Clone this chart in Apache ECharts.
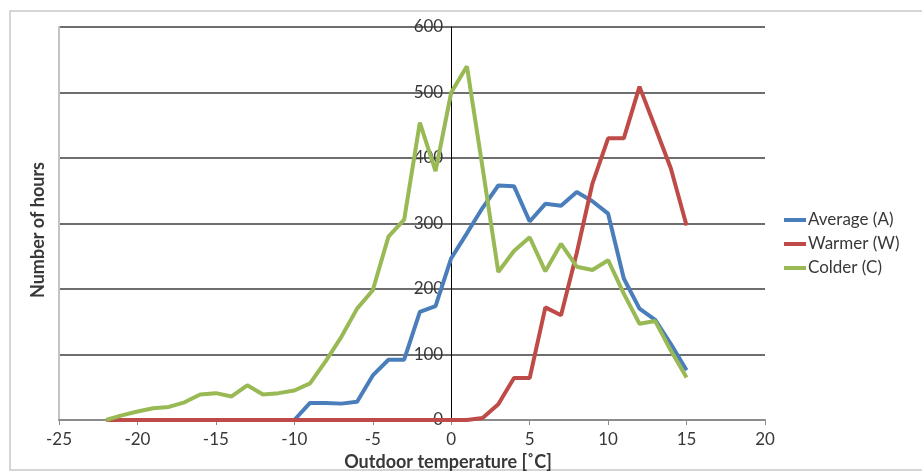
<!DOCTYPE html>
<html>
<head>
<meta charset="utf-8">
<script src="https://cdn.jsdelivr.net/npm/echarts@6/dist/echarts.min.js"></script>
<style>
  html, body { margin: 0; padding: 0; background: #fff; }
  #chart { width: 922px; height: 472px; }
</style>
</head>
<body>
<div id="chart"></div>
<script>
// outdoor temperature, one point per degree
const temps = [-22, -21, -20, -19, -18, -17, -16, -15, -14, -13, -12, -11, -10, -9, -8, -7, -6, -5, -4, -3,
  -2, -1, 0, 1, 2, 3, 4, 5, 6, 7, 8, 9, 10, 11, 12, 13, 14, 15];

const average = [null, null, null, null, null, null, null, null, null, null, null, null, 0, 26, 26, 25, 28, 68, 92, 92,
  165, 174, 247, 285, 324, 358, 357, 303, 330, 327, 348, 334, 315, 216, 170, 153, 116, 76];
const warmer = [0, 0, 0, 0, 0, 0, 0, 0, 0, 0, 0, 0, 0, 0, 0, 0, 0, 0, 0, 0,
  0, 0, 0, 0, 3, 24, 64, 64, 172, 160, 255, 361, 430, 430, 509, 447, 384, 297];
const colder = [0, 7, 13, 18, 20, 27, 39, 41, 36, 53, 39, 41, 45, 56, 90, 127, 170, 198, 280, 306,
  454, 380, 500, 540, 385, 226, 258, 279, 227, 269, 234, 229, 244, 193, 147, 151, 106, 65];

const xTicks = [-25, 20, 5];   // min, max, step
const yTicks = [0, 600, 100];

const seriesNames = ["Average (A)", "Warmer (W)", "Colder (C)"];
const colors = ["#4a7ebb", "#be4b48", "#98b954"];

const FONT = "Lato";
const TEXT = "#383838";

const GRID = { left: 59, right: 157, top: 27, bottom: 52, outerBoundsMode: "none" };
const plotWidth = 922 - GRID.left - GRID.right;
// the value axis crosses at x = 0, so shift it in from the left edge
const yAxisShift = -((0 - xTicks[0]) / (xTicks[1] - xTicks[0])) * plotWidth;

const toPairs = (vals) => temps.map((t, i) => [t, vals[i]]);

const chart = echarts.init(document.getElementById("chart"));

const option = {
  backgroundColor: "#fff",
  animation: false,
  textStyle: { fontFamily: FONT },
  grid: GRID,
  graphic: [
    {
      // outer chart frame
      type: "rect",
      shape: { x: 10, y: 11, width: 930, height: 459 },
      style: { fill: "none", stroke: "#c8c8c8", lineWidth: 1.5 },
      z: -1,
    },
    {
      // y axis title
      type: "text",
      x: 38,
      y: 230,
      rotation: Math.PI / 2,
      style: {
        text: "Number of hours",
        fontFamily: FONT,
        fontSize: 18,
        fontWeight: "bold",
        fill: TEXT,
        align: "center",
        verticalAlign: "middle",
      },
    },
  ],
  legend: {
    orient: "vertical",
    left: 779,
    top: 206,
    icon: "rect",
    itemWidth: 22,
    itemHeight: 4,
    itemGap: 6,
    data: seriesNames,
    textStyle: { fontFamily: FONT, fontSize: 17, color: TEXT, lineHeight: 18, padding: [0, 0, 0, -3] },
  },
  xAxis: {
    type: "value",
    min: xTicks[0],
    max: xTicks[1],
    interval: xTicks[2],
    name: "Outdoor temperature [˚C]",
    nameLocation: "middle",
    nameGap: 31,
    nameTextStyle: {
      fontFamily: FONT,
      fontSize: 18,
      fontWeight: "bold",
      color: TEXT,
      padding: [0, 0, 0, 72],
    },
    axisLine: { lineStyle: { color: "#8c8c8c", width: 2 } },
    axisTick: { show: true, length: 5, lineStyle: { color: "#8c8c8c", width: 1 } },
    axisLabel: { margin: 11, fontSize: 17, color: TEXT, fontFamily: FONT },
    splitLine: { show: false },
  },
  yAxis: [
    {
      type: "value",
      position: "left",
      offset: yAxisShift,
      min: yTicks[0],
      max: yTicks[1],
      interval: yTicks[2],
      axisLine: { show: true, onZero: false, lineStyle: { color: "#000", width: 1 } },
      axisTick: { show: false },
      axisLabel: { margin: 8, fontSize: 17, color: TEXT, fontFamily: FONT },
      splitLine: { show: true, lineStyle: { color: "#6e6e6e", width: 2 } },
    },
    {
      // left edge of plot area
      type: "value",
      position: "left",
      min: yTicks[0],
      max: yTicks[1],
      axisLine: { show: true, onZero: false, lineStyle: { color: "#c4c4c4", width: 2 } },
      axisTick: { show: false },
      axisLabel: { show: false },
      splitLine: { show: false },
    },
  ],
  series: [average, warmer, colder].map((vals, i) => ({
    name: seriesNames[i],
    type: "line",
    data: toPairs(vals),
    symbol: "none",
    color: colors[i],
    lineStyle: { width: 4, color: colors[i] },
    z: 2 + i,
  })),
};

chart.setOption(option);
</script>
</body>
</html>
